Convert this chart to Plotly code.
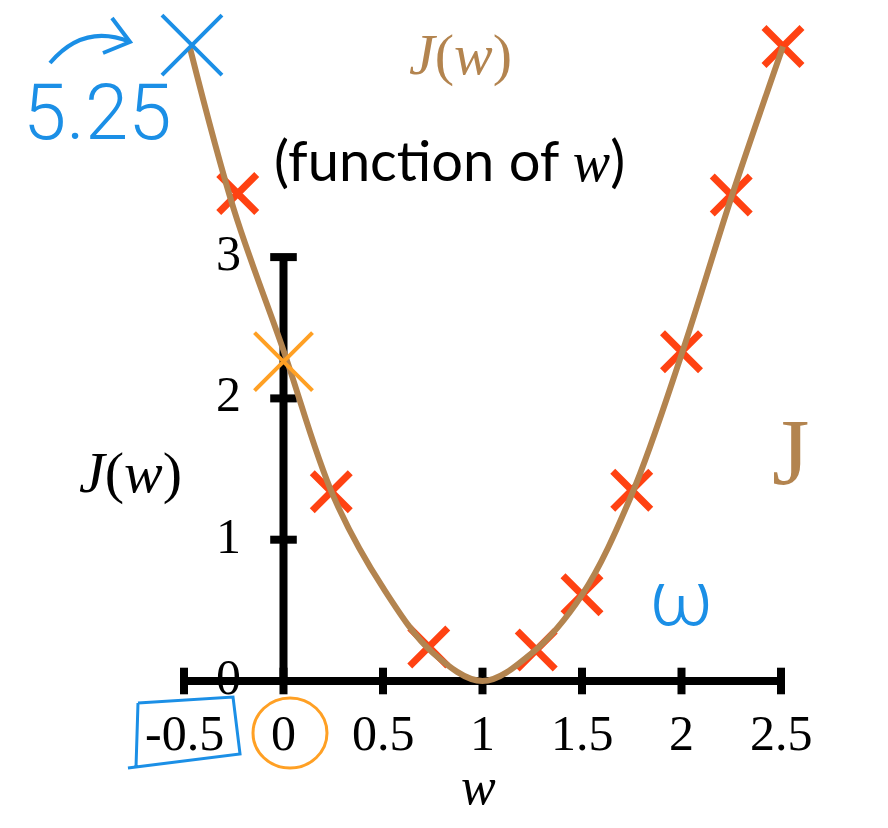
import plotly.graph_objects as go

# ── Data ────────────────────────────────────────────────────────────────────
w_curve = [-0.47, -0.25, 0, 0.25, 0.5, 0.75, 1, 1.25, 1.5, 1.75, 2, 2.25, 2.51]
j_curve = [4.48, 3.34, 2.34, 1.31, 0.66, 0.2, 0, 0.2, 0.61, 1.32, 2.31, 3.42, 4.49]

w_samples = [-0.23, 0.24, 0.73, 1.27, 1.5, 1.75, 2.0, 2.25, 2.51]
j_samples = [3.45, 1.34, 0.24, 0.22, 0.61, 1.35, 2.33, 3.44, 4.49]

w_start = [0.0]
j_start = [2.26]

w_left = [-0.46]
j_left = [4.5]

x_ticks = [-0.5, 0, 0.5, 1, 1.5, 2, 2.5]
x_tick_labels = ["-0.5", "0", "0.5", "1", "1.5", "2", "2.5"]
y_ticks = [0, 1, 2, 3]
y_tick_labels = ["0", "1", "2", "3"]

# ── Colours ─────────────────────────────────────────────────────────────────
BROWN = "#b3844f"
RED = "#ff4212"
ORANGE = "#ffa024"
BLUE = "#1b8fe6"
BLACK = "#000000"

W, H = 888, 828
SERIF = "Liberation Serif"


def paper(x, y):
    """Pixel position -> paper coords (figure has zero margins)."""
    return x / W, 1 - y / H


def path(*cmds):
    out = []
    for c in cmds:
        if isinstance(c, str):
            out.append(c)
        else:
            px, py = paper(*c)
            out.append(f"{px:.4f},{py:.4f}")
    return " ".join(out)


fig = go.Figure()

# axes drawn as data lines so they stop at the last tick
fig.add_trace(go.Scatter(x=[x_ticks[0], x_ticks[-1]], y=[0, 0], mode="lines",
                         line=dict(color=BLACK, width=8), hoverinfo="skip"))
fig.add_trace(go.Scatter(x=[0, 0], y=[y_ticks[0], y_ticks[-1]], mode="lines",
                         line=dict(color=BLACK, width=8), hoverinfo="skip"))
fig.add_trace(go.Scatter(x=x_ticks, y=[0] * len(x_ticks), mode="markers",
                         marker=dict(symbol="line-ns", size=19,
                                     line=dict(color=BLACK, width=8)),
                         hoverinfo="skip"))
fig.add_trace(go.Scatter(x=[0] * (len(y_ticks) - 1), y=y_ticks[1:], mode="markers",
                         marker=dict(symbol="line-ew", size=19,
                                     line=dict(color=BLACK, width=8)),
                         hoverinfo="skip"))

# sampled cost values
fig.add_trace(go.Scatter(x=w_samples, y=j_samples, mode="markers",
                         marker=dict(symbol="x-thin", size=38,
                                     line=dict(color=RED, width=7))))

# cost curve
fig.add_trace(go.Scatter(x=w_curve, y=j_curve, mode="lines",
                         line=dict(color=BROWN, width=6, shape="spline")))

# hand-drawn crosses
fig.add_trace(go.Scatter(x=w_start, y=j_start, mode="markers",
                         marker=dict(symbol="x-thin", size=58,
                                     line=dict(color=ORANGE, width=4))))
fig.add_trace(go.Scatter(x=w_left, y=j_left, mode="markers",
                         marker=dict(symbol="x-thin", size=60,
                                     line=dict(color=BLUE, width=4))))

annotations = []
for v, lbl in zip(x_ticks, x_tick_labels):
    annotations.append(dict(x=v, y=0, text=lbl, showarrow=False, yshift=-52,
                            font=dict(family=SERIF, size=50, color=BLACK)))
for v, lbl in zip(y_ticks, y_tick_labels):
    annotations.append(dict(x=0, y=v, text=lbl, showarrow=False,
                            xshift=-55, yshift=4,
                            font=dict(family=SERIF, size=50, color=BLACK)))


def note(x, y, text, size, color, family=SERIF, weight=None):
    px, py = paper(x, y)
    font = dict(family=family, size=size, color=color)
    if weight:
        font["weight"] = weight
    annotations.append(dict(x=px, y=py, xref="paper", yref="paper", text=text,
                            showarrow=False, xanchor="center", yanchor="middle",
                            font=font))


note(460, 55, "<i>J</i>(<i>w</i>)", 58, BROWN)
note(449, 160, "(function of <span style=\"font-family:Liberation Serif\"><i>w</i></span>)",
     56, BLACK, family="Lato")
note(130, 472, "<i>J</i>(<i>w</i>)", 58, BLACK)
note(478, 786, "<i>w</i>", 52, BLACK)
# handwritten notes
note(97, 113, "5.25", 78, BLUE, family="Roboto", weight=300)
note(681, 598, "ω", 78, BLUE, family="Roboto", weight=300)
note(790, 452, "J", 96, BROWN, family=SERIF)

shapes = [
    # curved arrow towards the first cross
    dict(type="path", xref="paper", yref="paper",
         path=path("M", (50, 63), "Q", (84, 23), (130, 42)),
         line=dict(color=BLUE, width=4)),
    dict(type="path", xref="paper", yref="paper",
         path=path("M", (112, 18), "L", (130, 42), "L", (103, 53)),
         line=dict(color=BLUE, width=4)),
    # box round -0.5
    dict(type="path", xref="paper", yref="paper",
         path=path("M", (138, 703), "L", (233, 697), "L", (240, 754), "L", (128, 768),
                   "M", (138, 703), "L", (136, 766)),
         line=dict(color=BLUE, width=3)),
    # circle round 0
    dict(type="circle", xref="paper", yref="paper",
         x0=253 / W, x1=327 / W, y0=1 - 768 / H, y1=1 - 698 / H,
         line=dict(color=ORANGE, width=3)),
]

x0_px, px_per_w = 283.5, 199.0
y0_px, px_per_j = 681.0, 141.3
fig.update_layout(
    width=W, height=H,
    margin=dict(l=0, r=0, t=0, b=0),
    paper_bgcolor="white", plot_bgcolor="white",
    showlegend=False,
    xaxis=dict(visible=False, range=[-x0_px / px_per_w, (W - x0_px) / px_per_w]),
    yaxis=dict(visible=False, range=[-(H - y0_px) / px_per_j, y0_px / px_per_j]),
    annotations=annotations,
    shapes=shapes,
)

fig.write_html("out.html", config={"displayModeBar": False},
               post_script="document.body.style.margin='0';")
